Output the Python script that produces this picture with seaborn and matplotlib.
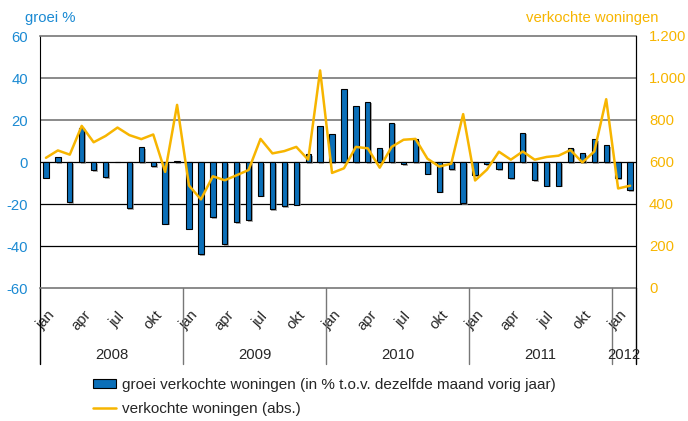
import matplotlib
matplotlib.use("Agg")
import matplotlib.pyplot as plt
import matplotlib.patheffects as pe
from matplotlib.patches import Patch
from matplotlib.lines import Line2D
from matplotlib.ticker import FuncFormatter
import numpy as np
import pandas as pd
import seaborn as sns

# ---- data (Jan 2008 .. Feb 2012) -------------------------------------------
groei = [-7.5, 2.4, -19.2, 16.4, -3.8, -7.2, 0.0, -21.9, 7.1, -2.0, -29.4, 0.6,
         -31.7, -43.9, -26.3, -39.1, -28.8, -27.7, -16.1, -22.5, -20.9, -20.3, 3.8, 17.0,
         13.1, 35.0, 26.6, 28.8, 6.6, 18.7, -1.1, 10.9, -5.5, -14.2, -3.5, -19.7,
         -6.3, -0.9, -3.5, -7.6, 14.0, -8.7, -11.3, -11.3, 6.8, 4.1, 10.9, 8.0,
         -7.6, -13.4]
verkocht = [620, 655, 635, 772, 694, 724, 764, 728, 709, 731, 553, 872,
            488, 422, 532, 513, 537, 562, 710, 641, 652, 672, 611, 1036,
            548, 570, 672, 665, 573, 672, 706, 710, 616, 578, 592, 828,
            512, 564, 649, 611, 650, 611, 624, 630, 657, 598, 650, 899,
            474, 487]
month_ticks = [0, 3, 6, 9, 12, 15, 18, 21, 24, 27, 30, 33, 36, 39, 42, 45, 48]
month_labels = ["jan", "apr", "jul", "okt"] * 4 + ["jan"]
years = ["2008", "2009", "2010", "2011", "2012"]
year_start = [0, 12, 24, 36, 48]
year_end = [11, 23, 35, 47, 49]

BLUE = "#0B6FB8"
ORANGE = "#F7B500"
TXT_BLUE = "#1B8AD3"
GREY = "#777777"
FS = 10.7

df = pd.DataFrame({"maand": np.arange(len(groei)), "groei": groei, "verkocht": verkocht})

sns.set_style("white")
plt.rcParams["font.family"] = ["Liberation Sans", "DejaVu Sans"]
plt.rcParams["axes.unicode_minus"] = False

fig = plt.figure(figsize=(6.88, 4.21), dpi=100)
ax = fig.add_axes([40 / 688, 1 - 288 / 421, 596 / 688, 252 / 421])

sns.barplot(data=df, x="maand", y="groei", color=BLUE, width=0.45,
            edgecolor="black", linewidth=0.8, saturation=1, ax=ax)
for p in ax.patches:
    p.set_path_effects([pe.SimplePatchShadow(offset=(1.2, -1.2), shadow_rgbFace="#888888", alpha=0.7),
                        pe.Normal()])

ax.set_xlim(-0.5, len(groei) - 0.5)
ax.set_ylim(-60, 60)
ax.set_yticks(range(-60, 61, 20))
# horizontal grid: upper lines render grey, lower ones black in the original
for v in [20, 40]:
    ax.axhline(v, color=GREY, lw=1.2, zorder=0)
for v in [-40, -20, 0]:
    ax.axhline(v, color="black", lw=0.9, zorder=0)
ax.grid(False)
ax.set_xlabel("")
ax.set_ylabel("")
ax.tick_params(axis="y", colors=TXT_BLUE, labelsize=FS, length=0, pad=8.6)
ax.spines["top"].set_color(GREY)
ax.spines["bottom"].set_color(GREY)
ax.spines["top"].set_linewidth(1.2)
ax.spines["bottom"].set_linewidth(1.2)
ax.spines["left"].set_color("black")
ax.spines["right"].set_color("black")

ax.set_xticks(month_ticks)
ax.set_xticklabels(month_labels, rotation=48, ha="center", va="center",
                   rotation_mode="anchor", fontsize=FS)
ax.tick_params(axis="x", length=0, pad=23)

ax2 = ax.twinx()
sns.lineplot(data=df, x="maand", y="verkocht", color=ORANGE, lw=1.8, ax=ax2)
ax2.set_ylim(0, 1200)
ax2.set_yticks(range(0, 1201, 200))
ax2.yaxis.set_major_formatter(FuncFormatter(lambda v, _: f"{int(v):,}".replace(",", ".")))
ax2.tick_params(axis="y", colors=ORANGE, labelsize=FS, length=0, pad=9.4)
ax2.set_xlabel("")
ax2.set_ylabel("")
for s in ["top", "bottom", "left"]:
    ax2.spines[s].set_visible(False)
ax2.spines["right"].set_color("black")
ax2.grid(False)

# year groups below the month labels
trans = ax.get_xaxis_transform()
bounds = [-0.5] + [e + 0.5 for e in year_end]
for i, x in enumerate(bounds):
    c = "black" if i in (0, len(bounds) - 1) else GREY
    ax.plot([x, x], [0, -0.3], transform=trans, color=c, lw=1.0, clip_on=False)
for y, s, e in zip(years, year_start, year_end):
    ax.text((s + e) / 2, -0.266, y, transform=trans, ha="center", va="center", fontsize=FS)

fig.text(25 / 688, 1 - 18 / 421, "groei %", color=TXT_BLUE, fontsize=FS, va="center")
fig.text(659 / 688, 1 - 18 / 421, "verkochte woningen", color=ORANGE, fontsize=FS,
         va="center", ha="right")

handles = [Patch(facecolor=BLUE, edgecolor="black", lw=0.8),
           Line2D([], [], color=ORANGE, lw=1.8)]
labels = ["groei verkochte woningen (in % t.o.v. dezelfde maand vorig jaar)",
          "verkochte woningen (abs.)"]
fig.legend(handles, labels, loc="upper left", bbox_to_anchor=(87 / 688, 1 - 372 / 421),
           frameon=False, fontsize=11, handlelength=1.5, handleheight=0.5,
           handletextpad=0.4, labelspacing=0.63, borderaxespad=0)

fig.savefig("out.png", dpi=100)
